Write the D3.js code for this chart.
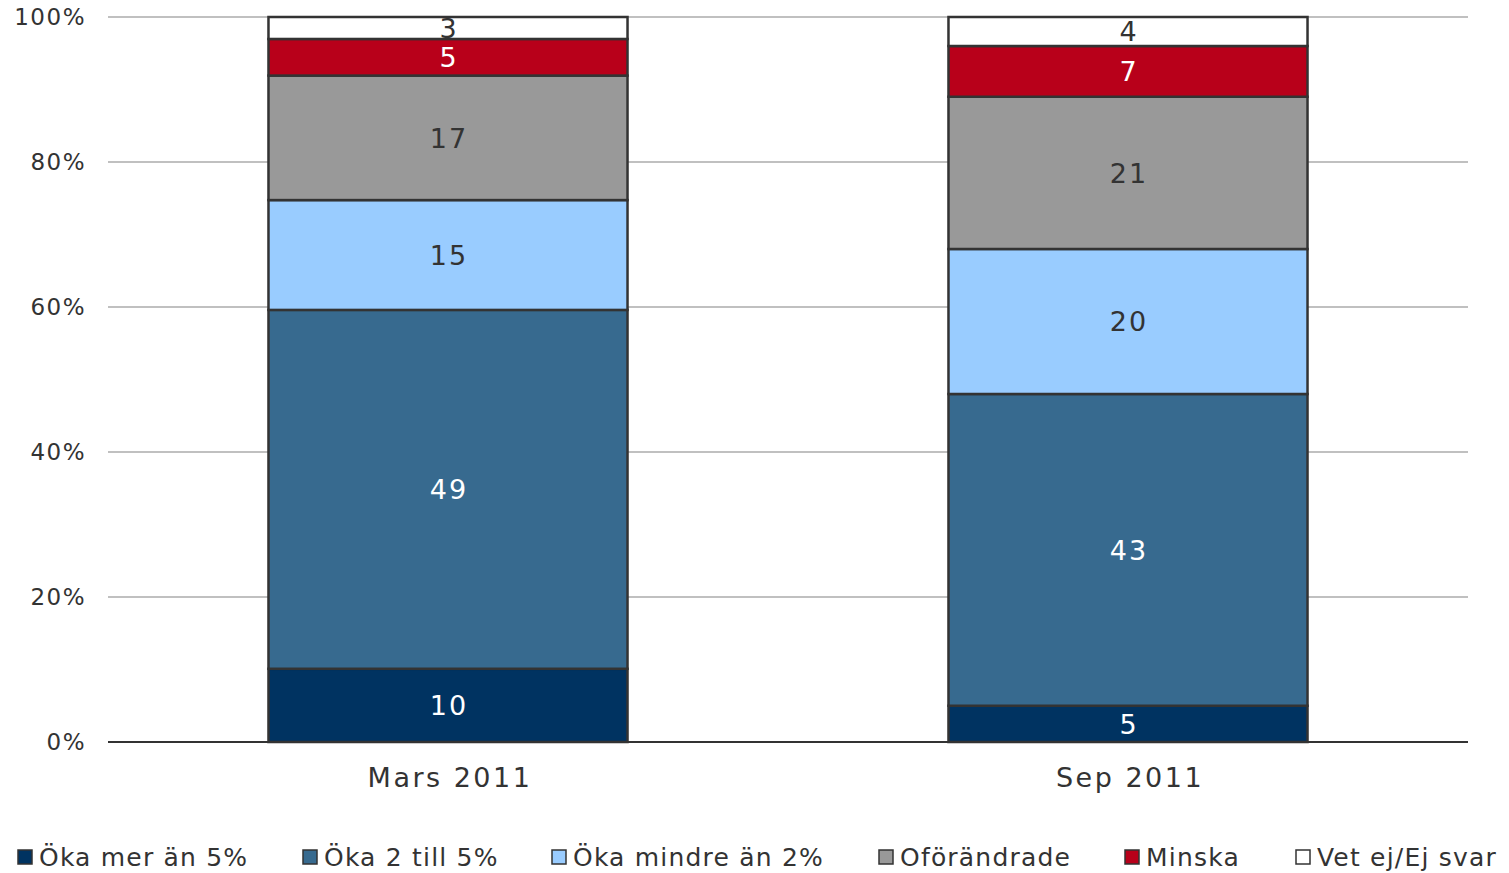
<!DOCTYPE html>
<html>
<head>
<meta charset="utf-8">
<script src="https://cdn.jsdelivr.net/npm/d3@7"></script>
<style>
  body { margin: 0; background: #fff; }
  svg text { font-family: "DejaVu Sans", sans-serif; }
</style>
</head>
<body>
<svg id="chart" width="1509" height="873"></svg>
<script>
var categories = ["Mars 2011", "Sep 2011"];
var seriesNames = ["Öka mer än 5%", "Öka 2 till 5%", "Öka mindre än 2%", "Oförändrade", "Minska", "Vet ej/Ej svar"];
var mars = [10, 49, 15, 17, 5, 3];
var sep = [5, 43, 20, 21, 7, 4];
var yTicks = [0, 0.2, 0.4, 0.6, 0.8, 1];

var colors = ["#003361", "#376a8f", "#99ccff", "#999999", "#b8001a", "#ffffff"];
var labelColors = ["#fff", "#fff", "#333", "#333", "#fff", "#333"];

var svg = d3.select("#chart"),
    margin = {top: 17, right: 41, bottom: 131, left: 108},
    width = +svg.attr("width") - margin.left - margin.right,
    height = +svg.attr("height") - margin.top - margin.bottom,
    g = svg.append("g").attr("transform", "translate(" + margin.left + "," + margin.top + ")");

var x = d3.scaleBand().domain(categories).range([0, width]).paddingInner(0.472).paddingOuter(0.236);
var y = d3.scaleLinear().domain([0, 1]).range([height, 0]);

// rows for the stack, normalised to 100%
var rows = categories.map(function(c, i) {
  var vals = i === 0 ? mars : sep;
  var row = {cat: c};
  seriesNames.forEach(function(s, j) { row[s] = vals[j]; });
  return row;
});
var stack = d3.stack().keys(seriesNames).offset(d3.stackOffsetExpand);
var layers = stack(rows);

// gridlines
g.append("g").selectAll("line")
  .data(yTicks.slice(1))
  .enter().append("line")
    .attr("x1", 0).attr("x2", width)
    .attr("y1", function(d) { return y(d); })
    .attr("y2", function(d) { return y(d); })
    .attr("stroke", "#c0c0c0")
    .attr("stroke-width", 2);

// y labels
g.append("g").selectAll("text")
  .data(yTicks)
  .enter().append("text")
    .attr("x", -22)
    .attr("y", function(d) { return y(d); })
    .attr("dy", "0.35em")
    .attr("text-anchor", "end")
    .attr("fill", "#333")
    .style("font-size", "23px")
    .style("letter-spacing", "1.5px")
    .text(function(d) { return Math.round(d * 100) + "%"; });

var layer = g.selectAll(".layer")
  .data(layers)
  .enter().append("g")
    .attr("class", "layer");

layer.selectAll("rect")
  .data(function(d) { return d.map(function(p) { return {p: p, i: d.index}; }); })
  .enter().append("rect")
    .attr("x", function(d) { return x(d.p.data.cat); })
    .attr("width", x.bandwidth())
    .attr("y", function(d) { return y(d.p[1]); })
    .attr("height", function(d) { return y(d.p[0]) - y(d.p[1]); })
    .attr("fill", function(d) { return colors[d.i]; })
    .attr("stroke", "#333")
    .attr("stroke-width", 2.5);

layer.selectAll("text")
  .data(function(d) { return d.map(function(p) { return {p: p, i: d.index, key: d.key}; }); })
  .enter().append("text")
    .attr("x", function(d) { return x(d.p.data.cat) + x.bandwidth() / 2 + 1; })
    .attr("y", function(d) { return y((d.p[0] + d.p[1]) / 2); })
    .attr("dy", "0.36em")
    .attr("text-anchor", "middle")
    .attr("fill", function(d) { return labelColors[d.i]; })
    .style("font-size", "27px")
    .style("letter-spacing", "2px")
    .text(function(d) { return d.p.data[d.key]; });

// baseline
g.append("line")
  .attr("x1", 0).attr("x2", width)
  .attr("y1", height).attr("y2", height)
  .attr("stroke", "#333")
  .attr("stroke-width", 2);

// x labels
g.append("g").selectAll("text")
  .data(categories)
  .enter().append("text")
    .attr("x", function(d) { return x(d) + x.bandwidth() / 2 + 2; })
    .attr("y", height + 36)
    .attr("dy", "0.35em")
    .attr("text-anchor", "middle")
    .attr("fill", "#333")
    .style("font-size", "27px")
    .style("letter-spacing", "2.5px")
    .text(function(d) { return d; });

// legend
var legendX = [17, 302, 551, 878, 1124, 1295];
var legend = svg.append("g").selectAll("g")
  .data(seriesNames)
  .enter().append("g")
    .attr("transform", function(d, i) { return "translate(" + legendX[i] + ",857)"; });

legend.append("rect")
  .attr("x", 1).attr("y", -7)
  .attr("width", 14).attr("height", 14)
  .attr("fill", function(d, i) { return colors[i]; })
  .attr("stroke", "#333")
  .attr("stroke-width", 1.5);

legend.append("text")
  .attr("x", 22)
  .attr("dy", "0.36em")
  .attr("fill", "#333")
  .style("font-size", "25px")
  .style("letter-spacing", "1.2px")
  .text(function(d) { return d; });
</script>
</body>
</html>
